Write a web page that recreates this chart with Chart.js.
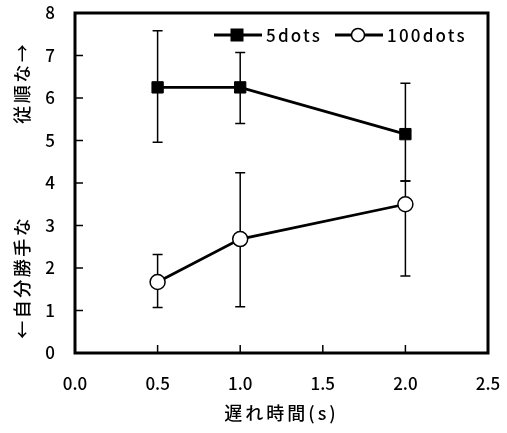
<!DOCTYPE html>
<html><head><meta charset="utf-8">
<script src="https://cdn.jsdelivr.net/npm/chart.js@4"></script>
<style>html,body{margin:0;padding:0;background:#fff;}#wrap{width:507px;height:433px;}</style>
</head><body><div id="wrap"><canvas id="c"></canvas></div>
<script>
const delays = [0.5, 1.0, 2.0];
const dots5 = [6.25, 6.25, 5.15];
const dots5Hi = [7.58, 7.07, 6.35];
const dots5Lo = [4.96, 5.40, 4.05];
const dots100 = [1.67, 2.68, 3.50];
const dots100Hi = [2.32, 4.24, 4.05];
const dots100Lo = [1.07, 1.09, 1.81];
const seriesNames = ['5dots', '100dots'];
const xTitle = '遅れ時間(s)';
const yTitleTop = '従順な→';
const yTitleBottom = '←自分勝手な';
const FONT = '"Noto Sans CJK JP", "Noto Sans", sans-serif';
const W = '500';

const errs = [[dots5Hi, dots5Lo], [dots100Hi, dots100Lo]];

const framePlugin = {
  id: 'frame',
  beforeDatasetsDraw(chart) {
    const {ctx, scales: {x, y}} = chart;
    ctx.save();
    ctx.strokeStyle = '#000';
    ctx.lineWidth = 1.5;
    chart.data.datasets.forEach((ds, i) => {
      const [hi, lo] = errs[i];
      ds.data.forEach((p, j) => {
        const px = x.getPixelForValue(p.x);
        const pt = y.getPixelForValue(hi[j]);
        const pb = y.getPixelForValue(lo[j]);
        ctx.beginPath();
        ctx.moveTo(px, pt); ctx.lineTo(px, pb);
        ctx.moveTo(px - 5, pt); ctx.lineTo(px + 5, pt);
        ctx.moveTo(px - 5, pb); ctx.lineTo(px + 5, pb);
        ctx.stroke();
      });
    });
    ctx.restore();
  },
  afterDraw(chart) {
    const {ctx, chartArea: a, scales: {x, y}} = chart;
    ctx.save();
    ctx.strokeStyle = '#000';
    ctx.lineWidth = 1.5;
    x.ticks.forEach(t => {
      if (t.value <= x.min || t.value >= x.max) return;
      const px = x.getPixelForValue(t.value);
      ctx.beginPath(); ctx.moveTo(px, a.bottom); ctx.lineTo(px, a.bottom - 8); ctx.stroke();
    });
    y.ticks.forEach(t => {
      if (t.value <= y.min || t.value >= y.max) return;
      const py = y.getPixelForValue(t.value);
      ctx.beginPath(); ctx.moveTo(a.left, py); ctx.lineTo(a.left + 8, py); ctx.stroke();
    });
    ctx.lineWidth = 3;
    ctx.strokeRect(a.left, a.top, a.right - a.left, a.bottom - a.top);
    ctx.fillStyle = '#000';
    ctx.font = W + ' 18px ' + FONT;
    ctx.letterSpacing = '3px';
    ctx.textAlign = 'center';
    ctx.textBaseline = 'middle';
    ctx.fillText(xTitle, (a.left + a.right) / 2, 413);
    ctx.letterSpacing = '2.5px';
    ctx.save();
    ctx.translate(22, a.top + (a.bottom - a.top) * 0.205);
    ctx.rotate(-Math.PI / 2);
    ctx.fillText(yTitleTop, 0, 0);
    ctx.restore();
    ctx.save();
    ctx.translate(22, a.top + (a.bottom - a.top) * 0.777);
    ctx.rotate(-Math.PI / 2);
    ctx.fillText(yTitleBottom, 0, 0);
    ctx.restore();
    const ly = 35;
    const items = [{x0: 214, name: seriesNames[0], ds: chart.data.datasets[0]},
                   {x0: 335, name: seriesNames[1], ds: chart.data.datasets[1]}];
    ctx.font = W + ' 17px ' + FONT;
    ctx.letterSpacing = '2.2px';
    ctx.textAlign = 'left';
    items.forEach(it => {
      ctx.lineWidth = 2.8;
      ctx.beginPath(); ctx.moveTo(it.x0, ly); ctx.lineTo(it.x0 + 48, ly); ctx.stroke();
      const mx = it.x0 + 23;
      ctx.lineWidth = 1.5;
      if (it.ds.pointStyle === 'rect') {
        ctx.fillStyle = '#000';
        ctx.fillRect(mx - 6.5, ly - 6.5, 13, 13);
      } else {
        ctx.fillStyle = '#fff';
        ctx.beginPath(); ctx.arc(mx, ly, 6.5, 0, Math.PI * 2); ctx.fill(); ctx.stroke();
      }
      ctx.fillStyle = '#000';
      ctx.fillText(it.name, it.x0 + 52, ly + 1);
    });
    ctx.restore();
  }
};

new Chart(document.getElementById('c'), {
  type: 'line',
  data: {
    datasets: [
      {label: seriesNames[0], data: delays.map((d, i) => ({x: d, y: dots5[i]})),
       borderColor: '#000', borderWidth: 2.8, pointStyle: 'rect', pointRadius: 8,
       pointBackgroundColor: '#000', pointBorderColor: '#000', pointBorderWidth: 1},
      {label: seriesNames[1], data: delays.map((d, i) => ({x: d, y: dots100[i]})),
       borderColor: '#000', borderWidth: 2.8, pointStyle: 'circle', pointRadius: 7.5,
       pointBackgroundColor: '#fff', pointBorderColor: '#000', pointBorderWidth: 1.5}
    ]
  },
  options: {
    responsive: true, maintainAspectRatio: false, animation: false,
    layout: {padding: {left: 0, right: 19, top: 13, bottom: 0}},
    plugins: {legend: {display: false}, tooltip: {enabled: false}},
    scales: {
      x: {type: 'linear', min: 0, max: 2.5,
          grid: {display: false, drawTicks: false}, border: {display: false},
          afterFit: s => { s.height = 80; s.paddingLeft = 0; s.paddingRight = 0; },
          ticks: {stepSize: 0.5, padding: 20, color: '#000', font: {family: FONT, size: 17, weight: W},
                  callback: v => v.toFixed(1), maxRotation: 0, autoSkip: false}},
      y: {type: 'linear', min: 0, max: 8,
          grid: {display: false, drawTicks: false}, border: {display: false},
          afterFit: s => { s.width = 75; s.paddingTop = 0; s.paddingBottom = 0; },
          ticks: {stepSize: 1, padding: 20, color: '#000', font: {family: FONT, size: 17, weight: W}}}
    }
  },
  plugins: [framePlugin]
});
</script></body></html>
